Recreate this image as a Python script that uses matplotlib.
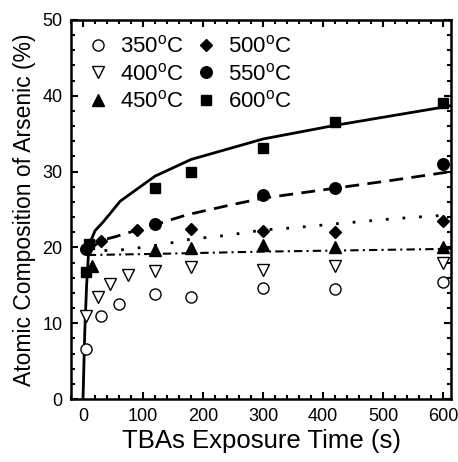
import matplotlib
matplotlib.use("Agg")
import matplotlib.pyplot as plt
from matplotlib.ticker import MultipleLocator

plt.rcParams['font.family'] = ['Liberation Sans', 'DejaVu Sans']
plt.rcParams['mathtext.fontset'] = 'custom'
plt.rcParams['mathtext.rm'] = 'Liberation Sans'

# measured points (time in s, As composition in %)
t_350 = [5, 30, 60, 120, 180, 300, 420, 600]
y_350 = [6.6, 11.0, 12.5, 13.9, 13.5, 14.7, 14.5, 15.5]
t_400 = [5, 25, 45, 75, 120, 180, 300, 420, 600]
y_400 = [11.0, 13.5, 15.2, 16.4, 16.9, 17.4, 17.0, 17.5, 17.9]
t_450 = [15, 120, 180, 300, 420, 600]
y_450 = [17.6, 19.7, 19.9, 20.3, 20.1, 20.0]
t_500 = [8, 30, 90, 180, 300, 420, 600]
y_500 = [20.0, 20.8, 22.3, 22.4, 22.2, 22.0, 23.5]
t_550 = [5, 120, 300, 420, 600]
y_550 = [19.8, 23.1, 26.9, 27.9, 31.0]
t_600 = [5, 10, 120, 180, 300, 420, 600]
y_600 = [16.8, 20.5, 27.9, 29.9, 33.1, 36.6, 39.1]

# fitted curves
fit_600_t = [0, 3, 6, 10, 20, 34, 62, 120, 180, 300, 420, 600, 613]
fit_600_y = [0, 9, 15, 20.3, 22.2, 23.4, 26.1, 29.4, 31.6, 34.3, 36.1, 38.5, 38.7]
fit_550_t = [8, 34, 53, 120, 173, 240, 300, 419, 519, 613]
fit_550_y = [19.7, 21.0, 21.4, 23.0, 24.3, 25.5, 26.5, 27.8, 28.9, 30.0]
fit_500_t = [8, 53, 78, 98, 140, 180, 240, 300, 352, 419, 519, 613]
fit_500_y = [19.6, 19.6, 19.8, 20.0, 20.5, 21.1, 21.6, 22.3, 22.6, 23.1, 23.8, 24.3]
fit_450_t = [8, 120, 300, 600, 613]
fit_450_y = [19.0, 19.15, 19.45, 19.8, 19.85]

labels = ['350$^\\mathrm{o}$C', '400$^\\mathrm{o}$C', '450$^\\mathrm{o}$C',
          '500$^\\mathrm{o}$C', '550$^\\mathrm{o}$C', '600$^\\mathrm{o}$C']

fig = plt.figure(figsize=(4.58, 4.62), dpi=100)
ax = fig.add_axes([0.155, 0.136, 0.83, 0.821])

ax.plot(fit_600_t, fit_600_y, color='black', lw=2.0, ls='-')
ax.plot(fit_550_t, fit_550_y, color='black', lw=2.0, ls=(0, (5, 3)))
ax.plot(fit_500_t, fit_500_y, color='black', lw=2.0, ls=(0, (1, 5)))
ax.plot(fit_450_t, fit_450_y, color='black', lw=1.5, ls=(0, (4, 2, 1, 2)))

ax.plot(t_350, y_350, 'o', ms=8, mfc='white', mec='black', mew=1.0, label=labels[0])
ax.plot(t_400, y_400, 'v', ms=9, mfc='white', mec='black', mew=1.0, label=labels[1])
ax.plot(t_450, y_450, '^', ms=9, color='black', label=labels[2])
ax.plot(t_500, y_500, 'D', ms=6.3, color='black', label=labels[3])
ax.plot(t_550, y_550, 'o', ms=8.3, color='black', label=labels[4])
ax.plot(t_600, y_600, 's', ms=7.3, color='black', label=labels[5])

ax.set_xlim(-20, 613)
ax.set_ylim(0, 50)
ax.xaxis.set_major_locator(MultipleLocator(100))
ax.xaxis.set_minor_locator(MultipleLocator(20))
ax.yaxis.set_major_locator(MultipleLocator(10))
ax.yaxis.set_minor_locator(MultipleLocator(2))
ax.tick_params(which='both', direction='in', top=True, right=True, width=1.5, labelsize=13)
ax.tick_params(which='major', length=5, pad=6)
ax.tick_params(which='minor', length=3)
for s in ax.spines.values():
    s.set_linewidth(1.8)

ax.set_xlabel('TBAs Exposure Time (s)', fontsize=18.5, labelpad=3)
ax.set_ylabel('Atomic Composition of Arsenic (%)', fontsize=16.5, labelpad=5)

ax.legend(loc='upper left', ncol=2, frameon=False, fontsize=16,
          handlelength=1.0, handletextpad=0.5, columnspacing=0.5,
          labelspacing=0.25, borderaxespad=0.3, bbox_to_anchor=(0.0, 1.0))

fig.savefig('out.png', dpi=100)
